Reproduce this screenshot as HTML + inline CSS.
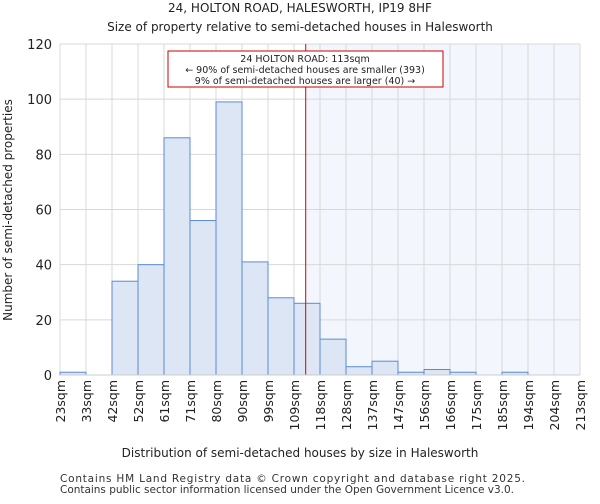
<!DOCTYPE html>
<html><head><meta charset="utf-8"><style>
body{margin:0;background:#fff;font-family:"DejaVu Sans","Liberation Sans",sans-serif;}
</style></head><body>
<svg id="c" width="600" height="500" xmlns="http://www.w3.org/2000/svg" font-family="DejaVu Sans, Liberation Sans, sans-serif">
<text x="300" y="12" text-anchor="middle" font-size="12" fill="#222">24, HOLTON ROAD, HALESWORTH, IP19 8HF</text>
<text x="300" y="31" text-anchor="middle" font-size="12" fill="#222">Size of property relative to semi-detached houses in Halesworth</text>
<g id="grid"></g><g id="bars"></g><g id="axes"></g>
<text x="300" y="457" text-anchor="middle" font-size="12" fill="#222">Distribution of semi-detached houses by size in Halesworth</text>
<text transform="translate(12,210) rotate(-90)" text-anchor="middle" font-size="12" fill="#222">Number of semi-detached properties</text>
<text x="60" y="482" font-size="10.5" fill="#333" textLength="465">Contains HM Land Registry data © Crown copyright and database right 2025.</text>
<text x="60" y="493" font-size="10.5" fill="#333" textLength="454">Contains public sector information licensed under the Open Government Licence v3.0.</text>
</svg>
<script>
const tickLabels=["23sqm","33sqm","42sqm","52sqm","61sqm","71sqm","80sqm","90sqm","99sqm","109sqm","118sqm","128sqm","137sqm","147sqm","156sqm","166sqm","175sqm","185sqm","194sqm","204sqm","213sqm"];
const counts=[1,0,34,40,86,56,99,41,28,26,13,3,5,1,2,1,0,1,0,0];
const yTicks=[0,20,40,60,80,100,120];
const propertyBin=9.45;
const NS="http://www.w3.org/2000/svg";
const L=60,R=580,T=44,B=375,yMax=120;
const bw=(R-L)/counts.length;
const xs=i=>L+i*bw;
const ys=v=>B-v/yMax*(B-T);
function mk(tag,attrs,parent){const e=document.createElementNS(NS,tag);for(const k in attrs)e.setAttribute(k,attrs[k]);parent.appendChild(e);return e;}
const grid=document.getElementById('grid'),bars=document.getElementById('bars'),axes=document.getElementById('axes');
const px=xs(propertyBin);
const sh=mk('rect',{x:px,y:T,width:R-px,height:B-T,fill:'#f3f6fd'},grid);


yTicks.forEach(v=>{
 const l=mk('line',{x1:L,x2:R,y1:ys(v),y2:ys(v),stroke:'#d8d8d8','stroke-width':1},grid);
 
 
 const t=mk('text',{x:L-8,y:ys(v)+5,'text-anchor':'end','font-size':13,fill:'#222'},axes);
 t.textContent=v;
 
 
});
tickLabels.forEach((s,i)=>{
 const x=xs(i);
 const l=mk('line',{x1:x,x2:x,y1:T,y2:B,stroke:'#d8d8d8','stroke-width':1},grid);
 
 
 const t=mk('text',{transform:`translate(${x+5},380) rotate(-90)`,'text-anchor':'end','font-size':12.5,fill:'#222'},axes);
 t.textContent=s;
 
 
});
counts.forEach((v,i)=>{
 if(v<=0)return;
 const r=mk('rect',{x:xs(i),y:ys(v),width:bw,height:B-ys(v),fill:'#dce6f4',stroke:'#5b8bd6','stroke-width':1},bars);
 
 
});
const rl=mk('line',{x1:px,x2:px,y1:T,y2:B,stroke:'#dd0000','stroke-width':1},axes);


const bx=mk('rect',{x:168,y:51,width:275,height:36,fill:'#fff',stroke:'#cc0000','stroke-width':1},axes);


["24 HOLTON ROAD: 113sqm","← 90% of semi-detached houses are smaller (393)","9% of semi-detached houses are larger (40) →"].forEach((s,i)=>{
 const t=mk('text',{x:305,y:62+i*11,'text-anchor':'middle','font-size':9.5,fill:'#222'},axes);
 t.textContent=s;
 
 
});
const ax=mk('line',{x1:L,x2:R,y1:B,y2:B,stroke:'#ccc','stroke-width':1},axes);


</script>
</body></html>
